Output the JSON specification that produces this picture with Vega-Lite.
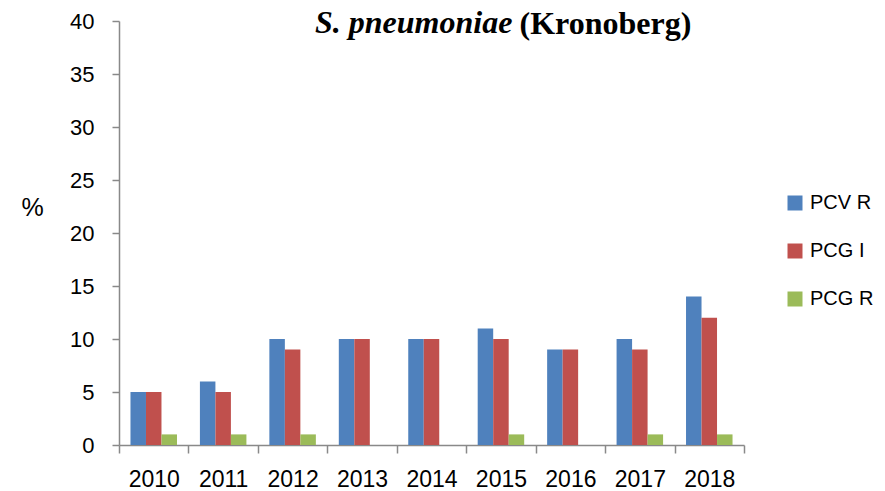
{
  "$schema": "https://vega.github.io/schema/vega-lite/v6.json",
  "autosize": "none",
  "padding": {"left": 119, "top": 21, "right": 141, "bottom": 46},
  "width": 625,
  "height": 424,
  "background": "white",
  "title": {
    "text": "S. pneumoniae",
    "anchor": "start",
    "frame": "group",
    "dx": 196,
    "dy": 33,
    "offset": 0,
    "font": "Liberation Serif",
    "fontSize": 32,
    "fontWeight": "bold",
    "fontStyle": "italic",
    "color": "black"
  },
  "data": {
    "values": [
      {"year": "2010", "series": "PCV R", "value": 5},
      {"year": "2010", "series": "PCG I", "value": 5},
      {"year": "2010", "series": "PCG R", "value": 1},
      {"year": "2011", "series": "PCV R", "value": 6},
      {"year": "2011", "series": "PCG I", "value": 5},
      {"year": "2011", "series": "PCG R", "value": 1},
      {"year": "2012", "series": "PCV R", "value": 10},
      {"year": "2012", "series": "PCG I", "value": 9},
      {"year": "2012", "series": "PCG R", "value": 1},
      {"year": "2013", "series": "PCV R", "value": 10},
      {"year": "2013", "series": "PCG I", "value": 10},
      {"year": "2013", "series": "PCG R", "value": 0},
      {"year": "2014", "series": "PCV R", "value": 10},
      {"year": "2014", "series": "PCG I", "value": 10},
      {"year": "2014", "series": "PCG R", "value": 0},
      {"year": "2015", "series": "PCV R", "value": 11},
      {"year": "2015", "series": "PCG I", "value": 10},
      {"year": "2015", "series": "PCG R", "value": 1},
      {"year": "2016", "series": "PCV R", "value": 9},
      {"year": "2016", "series": "PCG I", "value": 9},
      {"year": "2016", "series": "PCG R", "value": 0},
      {"year": "2017", "series": "PCV R", "value": 10},
      {"year": "2017", "series": "PCG I", "value": 9},
      {"year": "2017", "series": "PCG R", "value": 1},
      {"year": "2018", "series": "PCV R", "value": 14},
      {"year": "2018", "series": "PCG I", "value": 12},
      {"year": "2018", "series": "PCG R", "value": 1}
    ]
  },
  "mark": {"type": "bar"},
  "encoding": {
    "x": {
      "field": "year",
      "type": "nominal",
      "scale": {"paddingInner": 0, "paddingOuter": 0},
      "axis": {
        "title": "(Kronoberg)",
        "titleX": 400,
        "titleY": -412,
        "titleAlign": "left",
        "titleAnchor": null,
        "titleBaseline": "alphabetic",
        "titleFont": "Liberation Serif",
        "titleFontSize": 32,
        "titleFontWeight": "bold",
        "titleColor": "black",
        "labelAngle": 0,
        "labelFont": "Liberation Sans",
        "labelFontSize": 23,
        "labelColor": "black",
        "labelPadding": 15,
        "tickBand": "extent",
        "tickSize": 8,
        "tickColor": "#898989",
        "tickWidth": 1.5,
        "domainColor": "#898989",
        "domainWidth": 1.5,
        "grid": false
      }
    },
    "xOffset": {
      "field": "series",
      "type": "nominal",
      "sort": ["PCV R", "PCG I", "PCG R"],
      "scale": {"paddingInner": 0, "paddingOuter": 0.74}
    },
    "y": {
      "field": "value",
      "type": "quantitative",
      "scale": {"domain": [0, 40]},
      "axis": {
        "values": [0, 5, 10, 15, 20, 25, 30, 35, 40],
        "title": "%",
        "titleAngle": 0,
        "titleX": -87,
        "titleY": 186,
        "titleAlign": "center",
        "titleBaseline": "middle",
        "titleFont": "Liberation Sans",
        "titleFontSize": 25,
        "titleFontWeight": "normal",
        "titleColor": "black",
        "labelFont": "Liberation Sans",
        "labelFontSize": 22,
        "labelColor": "black",
        "labelPadding": 18,
        "tickSize": 7,
        "tickColor": "#898989",
        "tickWidth": 1.5,
        "domainColor": "#898989",
        "domainWidth": 1.5,
        "grid": false
      }
    },
    "color": {
      "field": "series",
      "type": "nominal",
      "sort": ["PCV R", "PCG I", "PCG R"],
      "scale": {"domain": ["PCV R", "PCG I", "PCG R"], "range": ["#4F81BD", "#C0504D", "#9BBB59"]},
      "legend": {
        "title": null,
        "orient": "none",
        "legendX": 666,
        "legendY": 172,
        "padding": 0,
        "symbolType": "square",
        "symbolSize": 225,
        "symbolStrokeWidth": 0,
        "labelFont": "Liberation Sans",
        "labelFontSize": 20,
        "labelColor": "black",
        "labelOffset": 5,
        "rowPadding": 28
      }
    }
  },
  "config": {
    "view": {"stroke": null}
  }
}
